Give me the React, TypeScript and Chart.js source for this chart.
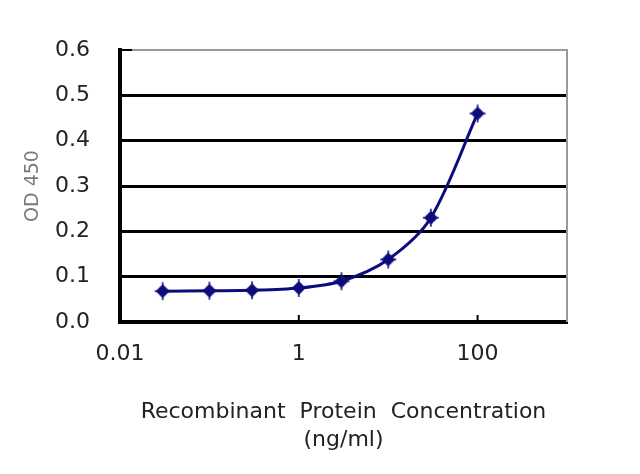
import { useEffect, useRef } from 'react'
import { Chart, registerables, type ChartConfiguration, type Plugin } from 'chart.js'

Chart.register(...registerables)

// concentration (ng/ml) and OD 450 readings
const concentrations = [0.03, 0.1, 0.3, 1, 3, 10, 30, 100]
const od450 = [0.068, 0.069, 0.07, 0.075, 0.09, 0.138, 0.23, 0.46]
const xTickValues = [0.01, 1, 100]
const xTickLabels = ['0.01', '1', '100']
const yTickValues = [0, 0.1, 0.2, 0.3, 0.4, 0.5, 0.6]

const NAVY = '#0c0c7e'
const FONT = 'DejaVu Sans'
const TEXT = '#222'

function makeMarker() {
  const c = document.createElement('canvas')
  c.width = 20
  c.height = 20
  const g = c.getContext('2d')!
  g.fillStyle = NAVY
  g.strokeStyle = NAVY
  g.beginPath()
  g.moveTo(10, 3)
  g.lineTo(17, 10)
  g.lineTo(10, 17)
  g.lineTo(3, 10)
  g.closePath()
  g.fill()
  g.lineWidth = 1.5
  g.beginPath()
  g.moveTo(10, 1)
  g.lineTo(10, 19)
  g.moveTo(2, 10)
  g.lineTo(18, 10)
  g.stroke()
  return c
}

// gray top/right frame plus the short inner tick marks
const framePlugin: Plugin<'line'> = {
  id: 'frame',
  beforeDatasetsDraw(chart) {
    const { ctx, chartArea: a, scales } = chart
    ctx.save()
    ctx.strokeStyle = '#9a9a9a'
    ctx.lineWidth = 2
    ctx.beginPath()
    ctx.moveTo(a.left, a.top)
    ctx.lineTo(a.right, a.top)
    ctx.lineTo(a.right, a.bottom)
    ctx.stroke()
    ctx.strokeStyle = '#000'
    ctx.lineWidth = 2
    ctx.beginPath()
    for (const v of xTickValues) {
      const x = scales.x.getPixelForValue(v)
      ctx.moveTo(x, a.bottom)
      ctx.lineTo(x, a.bottom - 7)
    }
    const yTop = scales.y.getPixelForValue(yTickValues[yTickValues.length - 1])
    ctx.moveTo(a.left, yTop)
    ctx.lineTo(a.left + 12, yTop)
    ctx.stroke()
    ctx.restore()
  },
}

export default function App() {
  const chartRef = useRef<HTMLCanvasElement>(null)
  const chartInstance = useRef<Chart | null>(null)

  useEffect(() => {
    document.body.style.margin = '0'
    if (!chartRef.current) return
    chartInstance.current?.destroy()
    const ctx = chartRef.current.getContext('2d')
    if (!ctx) return

    const marker = makeMarker()
    const yMax = yTickValues[yTickValues.length - 1]

    const config: ChartConfiguration<'line'> = {
      type: 'line',
      data: {
        datasets: [{
          label: 'OD 450',
          data: concentrations.map((c, i) => ({ x: c, y: od450[i] })),
          borderColor: NAVY,
          backgroundColor: NAVY,
          borderWidth: 3,
          tension: 0.3,
          pointStyle: marker,
          pointRadius: 9,
        }],
      },
      options: {
        responsive: false,
        animation: false,
        layout: { padding: { top: 50, right: 73, left: 0, bottom: 0 } },
        scales: {
          x: {
            type: 'logarithmic',
            min: 0.01,
            max: 1000,
            afterBuildTicks: (s) => { s.ticks = xTickValues.map(v => ({ value: v })) },
            afterFit: (s) => { s.height = 152 },
            ticks: {
              color: TEXT,
              font: { family: FONT, size: 22 },
              padding: 19,
              autoSkip: false,
              maxRotation: 0,
              callback: (v) => xTickLabels[xTickValues.indexOf(Number(v))] ?? '',
            },
            grid: { display: false, drawTicks: false },
            border: { color: '#000', width: 4 },
            title: {
              display: true,
              text: ['Recombinant  Protein  Concentration', '(ng/ml)'],
              color: TEXT,
              font: { family: FONT, size: 22, lineHeight: 1.27 },
              padding: { top: 0, bottom: 20 },
            },
          },
          y: {
            min: 0,
            max: yMax,
            afterBuildTicks: (s) => { s.ticks = yTickValues.map(v => ({ value: v })) },
            afterFit: (s) => { s.width = 120 },
            ticks: {
              color: TEXT,
              font: { family: FONT, size: 22 },
              padding: 30,
              callback: (v) => Number(v).toFixed(1),
            },
            grid: {
              color: (c) => (c.tick && c.tick.value === yMax ? 'rgba(0,0,0,0)' : '#000'),
              lineWidth: 3,
              drawTicks: false,
            },
            border: { color: '#000', width: 4 },
            title: {
              display: true,
              text: 'OD 450',
              color: '#7a7a7a',
              font: { family: FONT, size: 19 },
              padding: { top: 22, bottom: 0 },
            },
          },
        },
        plugins: {
          legend: { display: false },
          tooltip: { enabled: false },
        },
      },
      plugins: [framePlugin],
    }

    chartInstance.current = new Chart(ctx, config)
    return () => {
      chartInstance.current?.destroy()
      chartInstance.current = null
    }
  }, [])

  return (
    <div style={{ width: 640, height: 474, background: '#fff' }}>
      <canvas ref={chartRef} width={640} height={474} />
    </div>
  )
}
